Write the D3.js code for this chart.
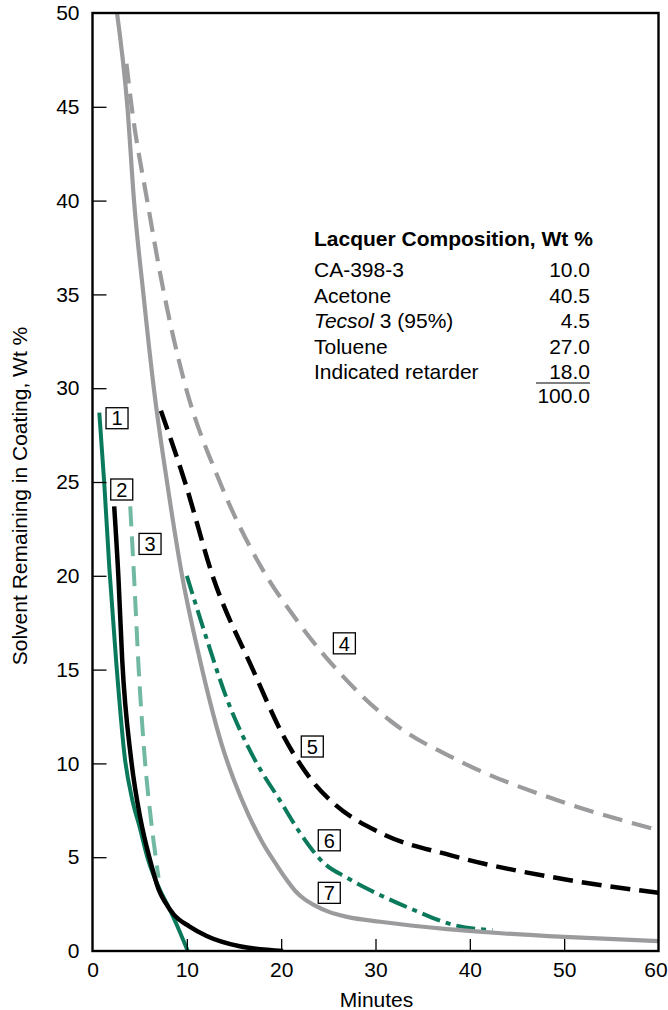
<!DOCTYPE html>
<html>
<head>
<meta charset="utf-8">
<script src="https://cdn.jsdelivr.net/npm/d3@7"></script>
<style>
  html, body { margin: 0; padding: 0; background: #fff; }
  svg { display: block; font-family: "Liberation Sans", Arial, Helvetica, sans-serif; }
</style>
</head>
<body>
<svg id="chart" width="668" height="1010"></svg>
<script>
// Solvent retention curves: [minutes, wt % solvent remaining]
const curve1 = [[0.72, 28.7], [1.25, 24.9], [1.8, 20.3], [2.5, 15.5], [3.45, 10.2], [4.2, 8.1], [5.0, 6.6], [5.9, 4.85], [7.15, 3.25], [8.0, 2.4], [8.75, 1.6], [10.1, 0]];
const curve2 = [[2.3, 23.7], [2.75, 19.9], [3.15, 15.5], [4.1, 10.2], [5.1, 7.0], [6.1, 4.85], [7.0, 3.3], [7.7, 2.6], [8.6, 1.95], [10.3, 1.3], [12.1, 0.8], [15.6, 0.25], [20.2, 0]];
const curve3 = [[4.0, 23.7], [4.4, 20.0], [4.9, 15.0], [5.55, 10.2], [6.2, 7.0], [7.0, 3.9]];
const curve4 = [[3.6, 47.3], [4.15, 45.0], [5.8, 40.0], [7.6, 35.0], [9.7, 30.4], [13.5, 25.0], [17.5, 20.8], [21.7, 17.6], [27.0, 14.4], [31.5, 12.3], [39.0, 10.1], [49.2, 8.05], [59.5, 6.5]];
const curve5 = [[7.25, 28.8], [9.8, 25.0], [12.8, 19.9], [17.0, 15.0], [20.2, 11.5], [23.4, 9.0], [25.5, 7.9], [30.5, 6.3], [38.0, 5.1], [50.3, 3.8], [60.0, 3.1]];
const curve6 = [[10.0, 20.0], [12.0, 16.8], [14.2, 13.5], [17.2, 10.2], [19.9, 8.0], [22.0, 6.3], [24.5, 4.7], [27.0, 3.9], [29.4, 3.25], [34.0, 2.2], [38.2, 1.4], [42.4, 1.1]];
const curve7 = [[2.6, 50.0], [3.7, 45.0], [4.4, 40.0], [5.4, 35.0], [6.5, 30.0], [7.9, 25.0], [9.5, 20.0], [11.4, 15.5], [12.5, 13.2], [13.7, 11.0], [15.0, 9.1], [16.5, 7.3], [18.0, 5.8], [19.5, 4.6], [20.5, 3.85], [21.5, 3.2], [22.5, 2.75], [23.5, 2.45], [25.0, 2.1], [27.0, 1.82], [30.5, 1.56], [37.6, 1.17], [43.0, 0.96], [50.0, 0.75], [60.0, 0.53]];

// Curve tags: number and the point where its box sits
const tagNames = ["1", "2", "3", "4", "5", "6", "7"];
const tagAt = [[2.6, 28.4], [3.1, 24.6], [6.1, 21.7], [26.7, 16.4], [23.3, 10.9], [25.1, 5.9], [25.1, 3.1]];

// Axis ticks
const xTicks = [0, 10, 20, 30, 40, 50, 60];
const yTicks = [0, 5, 10, 15, 20, 25, 30, 35, 40, 45, 50];

// Composition table
const compTitle = "Lacquer Composition, Wt %";
const compNames = ["CA-398-3", "Acetone", "Tecsol 3 (95%)", "Toluene", "Indicated retarder"];
const compValues = ["10.0", "40.5", "4.5", "27.0", "18.0"];
const compTotal = "100.0";

const svg = d3.select("#chart");
const x = d3.scaleLinear().domain([0, 60]).range([92.5, 658.5]);
const y = d3.scaleLinear().domain([0, 50]).range([951, 13]);

const green = "#0b7a5c", lightGreen = "#72b9a4", gray = "#9b9b9e", black = "#000";
const fs = 21;

// Curves
const line = d3.line().x(d => x(d[0])).y(d => y(d[1])).curve(d3.curveMonotoneX);
const series = [
  { data: curve4, color: gray, width: 4.2, dash: "20,10" },
  { data: curve5, color: black, width: 4.5, dash: "20,9" },
  { data: curve6, color: green, width: 4, dash: "19,6,5,6" },
  { data: curve7, color: gray, width: 4.2, dash: null },
  { data: curve3, color: lightGreen, width: 4, dash: "20,10" },
  { data: curve1, color: green, width: 4, dash: null },
  { data: curve2, color: black, width: 4.5, dash: null }
];
svg.append("clipPath").attr("id", "plotclip")
  .append("rect").attr("x", x(0)).attr("y", y(50)).attr("width", x(60) - x(0)).attr("height", y(0) - y(50));
svg.append("g").attr("clip-path", "url(#plotclip)")
  .selectAll("path").data(series).join("path")
  .attr("d", s => line(s.data))
  .attr("fill", "none")
  .attr("stroke", s => s.color)
  .attr("stroke-width", s => s.width)
  .attr("stroke-dasharray", s => s.dash)
  .attr("stroke-linecap", "butt");

// Axes with inward ticks
const yAxis = d3.axisLeft(y).tickValues(yTicks).tickSize(-14).tickPadding(13).tickFormat(d3.format("d"));
const gy = svg.append("g").attr("transform", `translate(${x(0)},0)`).call(yAxis);
const xAxis = d3.axisBottom(x).tickValues(xTicks).tickSize(-12).tickFormat(d3.format("d"));
const gx = svg.append("g").attr("transform", `translate(0,${y(0)})`).call(xAxis);
[gx, gy].forEach(g => {
  g.select(".domain").remove();
  g.selectAll(".tick line").attr("stroke", "#000").attr("stroke-width", 1.3);
  g.selectAll(".tick text").attr("fill", "#000").attr("font-size", fs).attr("font-family", "Liberation Sans, Arial, sans-serif");
});
gy.selectAll(".tick").filter(d => d === 0 || d === 50).select("line").remove();
gx.selectAll(".tick").filter(d => d === 0 || d === 60).select("line").remove();
gx.selectAll(".tick text").attr("y", 26).attr("dy", 0);
gx.selectAll(".tick").filter(d => d === 60).select("text").attr("x", -3);

// Frame
svg.append("rect")
  .attr("x", x(0)).attr("y", y(50))
  .attr("width", x(60) - x(0)).attr("height", y(0) - y(50))
  .attr("fill", "none").attr("stroke", "#000").attr("stroke-width", 2.4);

// Axis titles
svg.append("text")
  .attr("x", (x(0) + x(60)) / 2 + 1).attr("y", 1007)
  .attr("text-anchor", "middle").attr("font-size", fs).text("Minutes");
svg.append("text")
  .attr("transform", `translate(27,496) rotate(-90)`)
  .attr("text-anchor", "middle").attr("font-size", fs)
  .text("Solvent Remaining in Coating, Wt %");

// Curve tags
const tags = svg.append("g").selectAll("g").data(tagNames).join("g")
  .attr("transform", (d, i) => `translate(${x(tagAt[i][0])},${y(tagAt[i][1])})`);
tags.append("rect").attr("x", -11).attr("y", -10.5).attr("width", 22).attr("height", 21)
  .attr("fill", "#fff").attr("stroke", "#000").attr("stroke-width", 1.3);
tags.append("text").attr("text-anchor", "middle").attr("dy", "0.36em")
  .attr("font-size", 20).text(d => d);

// Composition table
const table = svg.append("g");
const tLeft = 314, tRight = 590, rowH = 25.5, firstRow = 277;
table.append("text").attr("x", tLeft).attr("y", 246)
  .attr("font-size", fs).attr("font-weight", "bold").text(compTitle);
compNames.forEach((name, i) => {
  const t = table.append("text").attr("x", tLeft).attr("y", firstRow + i * rowH).attr("font-size", fs);
  if (name.startsWith("Tecsol")) {
    t.append("tspan").attr("font-style", "italic").text("Tecsol");
    t.append("tspan").text(name.slice(6));
  } else {
    t.text(name);
  }
  table.append("text").attr("x", tRight).attr("y", firstRow + i * rowH)
    .attr("text-anchor", "end").attr("font-size", fs).text(compValues[i]);
});
table.append("line").attr("x1", 536).attr("x2", tRight).attr("y1", 383).attr("y2", 383)
  .attr("stroke", "#000").attr("stroke-width", 1.2);
table.append("text").attr("x", tRight).attr("y", 403)
  .attr("text-anchor", "end").attr("font-size", fs).text(compTotal);
</script>
</body>
</html>
